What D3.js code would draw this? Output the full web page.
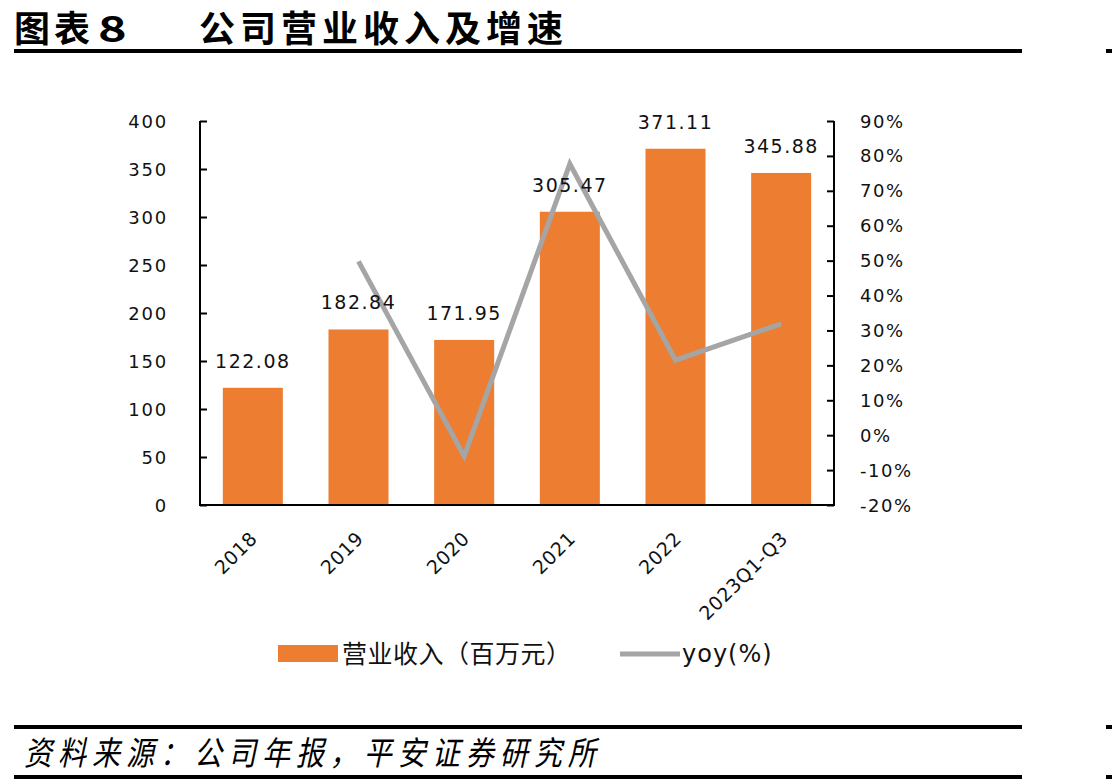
<!DOCTYPE html>
<html><head><meta charset="utf-8">
<script src="https://cdn.jsdelivr.net/npm/d3@7"></script>
<style>body{margin:0;background:#fff}svg{display:block}</style>
</head><body>
<svg id="c" width="1112" height="784"></svg>
<script>
const categories = ["2018","2019","2020","2021","2022","2023Q1-Q3"];
const revenue = [122.08,182.84,171.95,305.47,371.11,345.88];
const yoy = [null,49.8,-6.0,77.7,21.5,31.9];
const leftTicks = [0,50,100,150,200,250,300,350,400];
const rightTicks = [-20,-10,0,10,20,30,40,50,60,70,80,90];
const titleText = ["图表","8","公司营业收入及增速"];
const sourceText = "资料来源：公司年报，平安证券研究所";
const legendLabels = ["营业收入（百万元）","yoy(%)"];

const svg = d3.select("#c");
const L=200,R=834,T=121,B=505;
const x = d3.scaleBand().domain(categories).range([L,R]).paddingInner(0.432).paddingOuter(0.216);
const y = d3.scaleLinear().domain([0,400]).range([B,T]);
const y2 = d3.scaleLinear().domain([-20,90]).range([B,T]);
const numFont = "'DejaVu Sans', Verdana, sans-serif";
const cjk = "'Noto Sans CJK SC', sans-serif";

// title
svg.append("text").attr("x",14).attr("y",42).attr("font-family",cjk).attr("font-weight",700)
  .attr("font-size",36).attr("letter-spacing",4).attr("fill","#000").text(titleText[0]);
svg.append("text").attr("transform","translate(98,42) scale(1.35,1)").attr("font-family",cjk).attr("font-weight",700)
  .attr("font-size",36).attr("fill","#000").text(titleText[1]);
svg.append("text").attr("x",199).attr("y",42).attr("font-family",cjk).attr("font-weight",700)
  .attr("font-size",36).attr("letter-spacing",5).attr("fill","#000").text(titleText[2]);
svg.append("rect").attr("x",14).attr("y",49).attr("width",1008).attr("height",4).attr("fill","#000");
svg.append("rect").attr("x",1106).attr("y",49).attr("width",6).attr("height",4).attr("fill","#000");

// bars
svg.append("g").selectAll("rect").data(revenue).join("rect")
  .attr("x",(d,i)=>x(categories[i])).attr("width",x.bandwidth())
  .attr("y",d=>y(d)).attr("height",d=>B-y(d)).attr("fill","#ED7D31");

// axes
const gl = svg.append("g").attr("transform",`translate(${L},0)`)
  .call(d3.axisRight(y).tickValues(leftTicks).tickSize(7).tickFormat(""));
const gr = svg.append("g").attr("transform",`translate(${R},0)`)
  .call(d3.axisLeft(y2).tickValues(rightTicks).tickSize(7).tickFormat(""));
[gl,gr].forEach(g=>{g.selectAll("path,line").attr("stroke","#000").attr("stroke-width",2);g.select(".domain").attr("d",null);});
svg.append("line").attr("x1",L).attr("x2",L).attr("y1",T).attr("y2",B+1).attr("stroke","#000").attr("stroke-width",2);
svg.append("line").attr("x1",R).attr("x2",R).attr("y1",T).attr("y2",B+1).attr("stroke","#000").attr("stroke-width",2);
svg.append("line").attr("x1",L-1).attr("x2",R+1).attr("y1",B).attr("y2",B).attr("stroke","#000").attr("stroke-width",2);

// tick labels
svg.append("g").selectAll("text").data(leftTicks).join("text")
  .attr("x",168).attr("y",d=>y(d)+6.5).attr("text-anchor","end")
  .attr("font-family",numFont).attr("font-size",18).attr("letter-spacing",1.8).attr("fill","#111").text(d=>d);
svg.append("g").selectAll("text").data(rightTicks).join("text")
  .attr("x",860).attr("y",d=>y2(d)+6.5).attr("text-anchor","start")
  .attr("font-family",numFont).attr("font-size",18).attr("letter-spacing",1.5).attr("fill","#111").text(d=>d+"%");

// line
const pts = yoy.map((v,i)=>v==null?null:[x(categories[i])+x.bandwidth()/2,y2(v)]).filter(p=>p);
svg.append("path").attr("d",d3.line()(pts)).attr("fill","none").attr("stroke","#A5A5A5")
  .attr("stroke-width",5).attr("stroke-linejoin","miter");

// data labels
svg.append("g").selectAll("text").data(revenue).join("text")
  .attr("x",(d,i)=>x(categories[i])+x.bandwidth()/2).attr("y",d=>y(d)-20).attr("text-anchor","middle")
  .attr("font-family",numFont).attr("font-size",19).attr("letter-spacing",1.5).attr("fill","#111").text(d=>d.toFixed(2));

// x labels
svg.append("g").selectAll("text").data(categories).join("text")
  .attr("transform",(d,i)=>`translate(${x(d)+x.bandwidth()/2+1+i*0.4},535) rotate(-45)`)
  .attr("text-anchor","end").attr("dy","0.35em")
  .attr("font-family",numFont).attr("font-size",19).attr("letter-spacing",0.6).attr("fill","#111").text(d=>d);

// legend
svg.append("rect").attr("x",278).attr("y",645).attr("width",60).attr("height",17).attr("fill","#ED7D31");
svg.append("text").attr("x",342).attr("y",663).attr("font-family",cjk).attr("font-size",25)
  .attr("letter-spacing",0.5).attr("fill","#111").text(legendLabels[0]);
svg.append("line").attr("x1",620).attr("x2",680).attr("y1",654).attr("y2",654).attr("stroke","#A5A5A5").attr("stroke-width",5);
svg.append("text").attr("x",682).attr("y",662).attr("font-family",numFont).attr("font-size",24)
  .attr("letter-spacing",1).attr("fill","#111").text(legendLabels[1]);

// footer
svg.append("rect").attr("x",14).attr("y",725).attr("width",1008).attr("height",4).attr("fill","#000");
svg.append("rect").attr("x",1106).attr("y",725).attr("width",6).attr("height",4).attr("fill","#000");
svg.append("text").attr("transform","translate(24,765) scale(0.85,1)").attr("font-family",cjk).attr("font-style","italic")
  .attr("font-size",33).attr("letter-spacing",7).attr("fill","#000").text(sourceText);
svg.append("rect").attr("x",14).attr("y",775).attr("width",1008).attr("height",4).attr("fill","#000");
svg.append("rect").attr("x",1106).attr("y",775).attr("width",6).attr("height",4).attr("fill","#000");
</script>
</body></html>
